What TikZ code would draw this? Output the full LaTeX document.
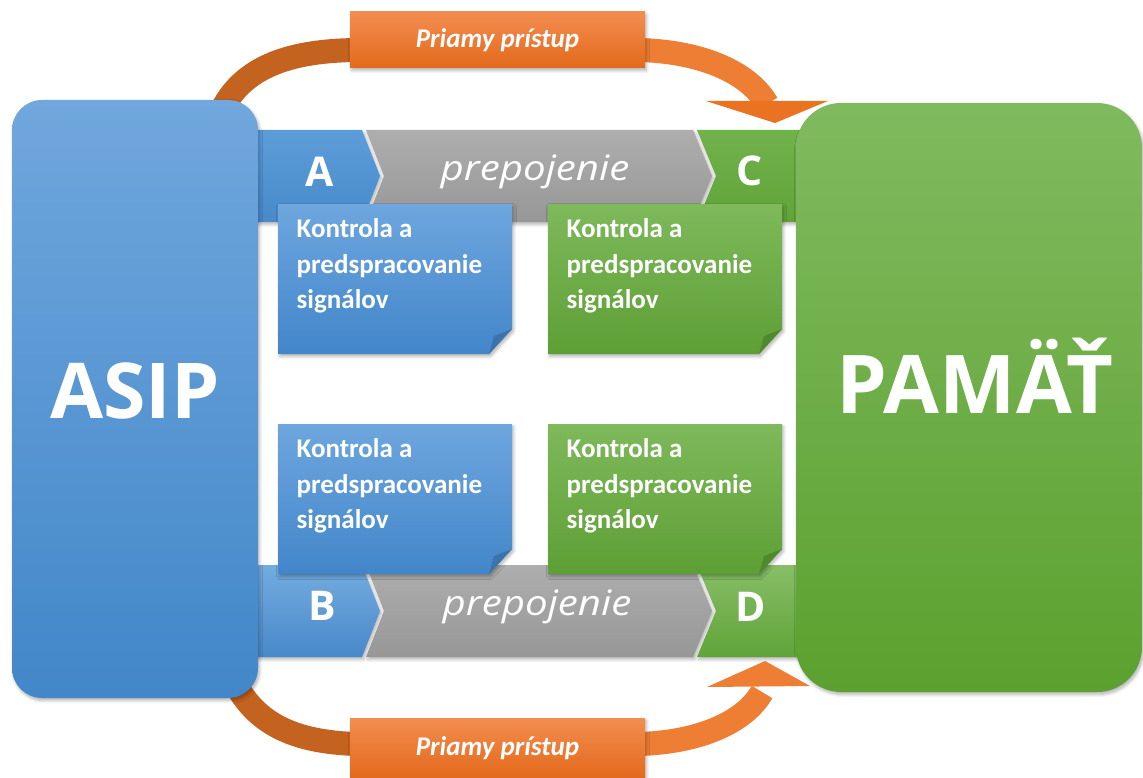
\documentclass[tikz,border=0pt]{standalone}
\usepackage{fontspec}
\setmainfont{Carlito}
\newfontfamily\osans{Open Sans}
\newfontfamily\osanswide{Open Sans}[FakeStretch=1.15]
\usetikzlibrary{shadows.blur}

% palette
\definecolor{asipTop}{HTML}{70A7DD}
\definecolor{asipBot}{HTML}{4287C9}
\definecolor{pamTop}{HTML}{80BA5F}
\definecolor{pamBot}{HTML}{5CA12F}
\definecolor{barBlueTop}{HTML}{5C9DD9}
\definecolor{barBlueBot}{HTML}{4889CA}
\definecolor{barGrayTop}{HTML}{AEAEAE}
\definecolor{barGrayBot}{HTML}{979797}
\definecolor{barGreenTop}{HTML}{72B24C}
\definecolor{barGreenBot}{HTML}{60A438}
\definecolor{blueNoteTop}{HTML}{6EA6DE}
\definecolor{blueNoteBot}{HTML}{4286CA}
\definecolor{blueFold}{HTML}{3B73AD}
\definecolor{greenNoteTop}{HTML}{7EB95B}
\definecolor{greenNoteBot}{HTML}{5E9F35}
\definecolor{greenFold}{HTML}{4E8A2B}
\definecolor{orTop}{HTML}{F38D50}
\definecolor{orBot}{HTML}{E3691B}
\definecolor{arcDark}{HTML}{C4621F}
\definecolor{arcLight}{HTML}{EE7E34}
\definecolor{headCol}{HTML}{EA7322}

\tikzset{
  softshadow/.style={blur shadow={shadow xshift=1.5pt, shadow yshift=-2.5pt,
      shadow blur radius=3pt, shadow blur steps=6, shadow opacity=30}},
  bluenote/.style={top color=blueNoteTop, bottom color=blueNoteBot, softshadow},
  greennote/.style={top color=greenNoteTop, bottom color=greenNoteBot, softshadow},
  notetext/.style={font=\bfseries\fontsize{27}{35.5}\selectfont, text=white,
      align=left, inner sep=0pt, anchor=north west},
  barletter/.style={font=\osans\bfseries\fontsize{41}{41}\selectfont, text=white,
      anchor=base, inner sep=0pt},
  barword/.style={font=\osanswide\itshape\fontsize{35}{35}\selectfont, text=white,
      anchor=base, inner sep=0pt},
  bigtitle/.style={font=\osans\bfseries\fontsize{#1}{#1}\selectfont, text=white,
      anchor=base, inner sep=0pt},
  lblbox/.style={top color=orTop, bottom color=orBot, text=white, inner sep=0pt,
      minimum width=295pt, font=\bfseries\itshape\fontsize{27}{27}\selectfont,
      softshadow},
  band/.style={line width=24pt},
}

% note sheet with a folded lower right corner: name, x, y, colour prefix
\newcommand{\signote}[4]{%
  \path[#4note] (#2,#3) -- ++(234,0) -- ++(0,125) -- ++(-23,25) -- ++(-211,0) -- cycle;
  \fill[#4Fold] (#2+234,#3+125) -- (#2+211,#3+150) -- (#2+216,#3+132) -- cycle;
  \node[notetext] (#1) at (#2+18.5,#3+14.5) {Kontrola a\\predspracovanie\\signálov};
}

\begin{document}
\begin{tikzpicture}[x=1pt,y=-1pt]
\useasboundingbox (0,0) rectangle (1143,778);

% ---- upper signal path: A | prepojenie | C
\path[top color=barBlueTop, bottom color=barBlueBot, softshadow]
  (240,130) -- (362,130) -- (380,176) -- (362,222) -- (240,222) -- cycle;
\path[top color=barGrayTop, bottom color=barGrayBot, softshadow]
  (366,130) -- (693,130) -- (712,176) -- (693,222) -- (366,222) -- (384,176) -- cycle;
\path[top color=barGreenTop, bottom color=barGreenBot, softshadow]
  (697,130) -- (830,130) -- (830,222) -- (697,222) -- (716,176) -- cycle;

% ---- lower signal path: B | prepojenie | D
\path[top color=barBlueTop!85!white, bottom color=barBlueBot, softshadow]
  (240,565) -- (362,565) -- (380,611) -- (362,657) -- (240,657) -- cycle;
\path[top color=barGrayTop, bottom color=barGrayBot, softshadow]
  (366,565) -- (693,565) -- (712,611) -- (693,657) -- (366,657) -- (384,611) -- cycle;
\path[top color=barGreenTop!85!white, bottom color=barGreenBot, softshadow]
  (697,565) -- (830,565) -- (830,657) -- (697,657) -- (716,611) -- cycle;

% ---- direct access bands
\coordinate (t0) at (220,114);
\coordinate (t1) at (355,50);
\coordinate (t2) at (640,50);
\coordinate (t3) at (767,104);
\draw[band, arcDark] (t0) .. controls (242,64) and (295,51) .. (t1) -- (500,50);
\draw[band, arcLight] (500,50) -- (t2) .. controls (705,52) and (750,74) .. (t3);

\coordinate (b0) at (238,688);
\coordinate (b1) at (355,744);
\coordinate (b2) at (640,744);
\coordinate (b3) at (762,692);
\draw[band, arcDark] (b0) .. controls (262,730) and (305,742) .. (b1) -- (500,744);
\draw[band, arcLight] (500,744) -- (b2) .. controls (700,742) and (745,722) .. (b3);

% ---- main blocks
\node[draw=none, rounded corners=30pt, top color=asipTop, bottom color=asipBot,
      minimum width=246pt, minimum height=598pt, inner sep=0pt, softshadow]
      (asip) at (135,399) {};
\node[draw=none, rounded corners=45pt, top color=pamTop, bottom color=pamBot,
      minimum width=346pt, minimum height=589pt, inner sep=0pt, softshadow]
      (pamat) at (969,397.5) {};
\node[bigtitle=77] (asipT) at (135,418) {ASIP};
\node[bigtitle=81] (pamatT) at (975,413) {PAMÄŤ};

% ---- bar captions
\node[barletter] (lA) at (320,187) {A};
\node[barword]   (w1) at (535,181) {prepojenie};
\node[barletter] (lC) at (750,186) {C};
\node[barletter] (lB) at (322,620) {B};
\node[barword]   (w2) at (537,615) {prepojenie};
\node[barletter] (lD) at (751,621) {D};

% ---- preprocessing notes
\signote{n1}{278}{204}{blue}
\signote{n2}{548}{204}{green}
\signote{n3}{278}{424}{blue}
\signote{n4}{548}{424}{green}

% ---- arrow heads and labels
\fill[headCol] (706,101) -- (828,101) -- (775,123) -- cycle;
\fill[arcLight] (707,687) -- (765,661) -- (810,686) -- cycle;
\node[lblbox, minimum height=56pt] (ptop) at (497.5,40) {Priamy prístup};
\node[lblbox, minimum height=60pt] (pbot) at (497.5,748) {Priamy prístup};
\end{tikzpicture}
\end{document}
